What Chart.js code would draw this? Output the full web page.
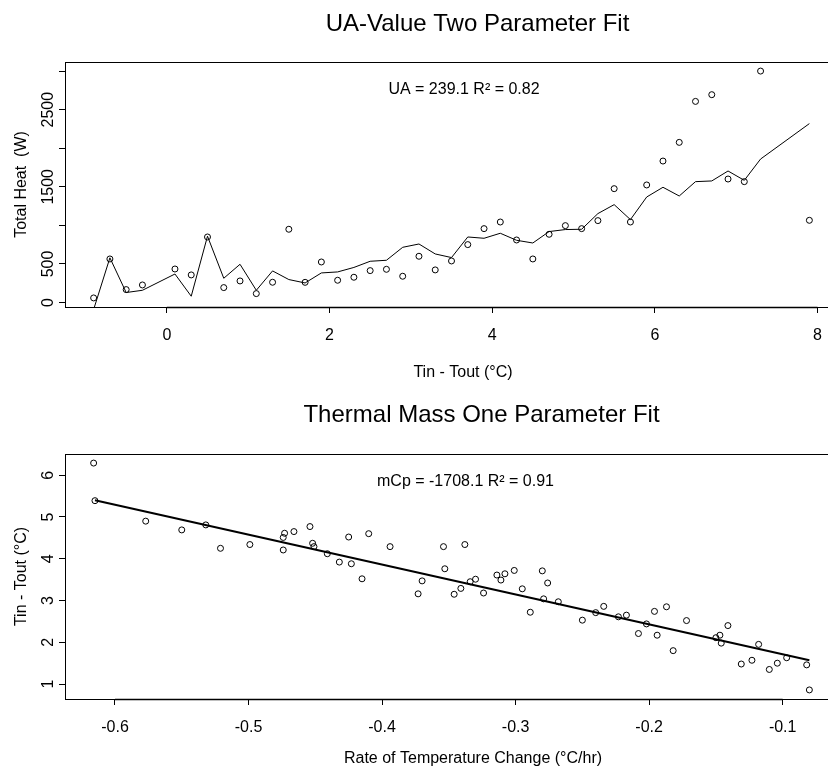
<!DOCTYPE html>
<html>
<head>
<meta charset="utf-8">
<script src="https://cdn.jsdelivr.net/npm/chart.js@4.4.1/dist/chart.umd.min.js"></script>
<style>
  html, body { margin: 0; padding: 0; background: #fff; overflow: hidden; }
  body { width: 828px; height: 769px; position: relative; }
  canvas { position: absolute; left: 0; }
  #uaChart { top: 0; }
  #massChart { top: 385px; }
</style>
</head>
<body>
<canvas id="uaChart" width="900" height="385"></canvas>
<canvas id="massChart" width="900" height="384"></canvas>
<script>
// UA fit: heat vs inside-outside temperature difference
const deltaT = [-0.9, -0.7, -0.5, -0.3, 0.1, 0.3, 0.5, 0.7, 0.9, 1.1, 1.3, 1.5, 1.7, 1.9, 2.1, 2.3, 2.5, 2.7, 2.9,
  3.1, 3.3, 3.5, 3.7, 3.9, 4.1, 4.3, 4.5, 4.7, 4.9, 5.1, 5.3, 5.5, 5.7, 5.9, 6.1, 6.3, 6.5, 6.7, 6.9, 7.1, 7.3, 7.9];
const totalHeat = [60, 565, 168, 228, 435, 358, 850, 194, 280, 116, 263, 950, 262, 526, 289, 328, 414, 431, 341,
  600, 423, 539, 751, 958, 1044, 811, 565, 885, 997, 958, 1062, 1476, 1044, 1524, 1834, 2076, 2607, 2694, 1601, 1567, 3000, 1066];
const heatFitted = [-90, 580, 130, 159, 370, 82, 860, 315, 496, 159, 410, 298, 254, 384, 397, 455, 535, 548, 716,
  759, 630, 583, 850, 833, 898, 807, 772, 920, 946, 950, 1153, 1269, 1075, 1368, 1494, 1381, 1567, 1576, 1705, 1584, 1860, 2319];
const uaXTicks = [0, 2, 4, 6, 8];
const uaXLabels = ["0", "2", "4", "6", "8"];
const uaYTicks = [0, 500, 1000, 1500, 2000, 2500, 3000];
const uaYLabels = ["0", "500", "", "1500", "", "2500", ""];

// thermal mass fit: temperature difference vs rate of change
const tempRate = [-0.616, -0.615, -0.577, -0.550, -0.532, -0.521, -0.499, -0.474, -0.473, -0.474, -0.466, -0.454,
  -0.452, -0.451, -0.441, -0.432, -0.425, -0.423, -0.415, -0.410, -0.394, -0.373, -0.370, -0.354, -0.353, -0.346,
  -0.341, -0.338, -0.334, -0.330, -0.324, -0.314, -0.311, -0.308, -0.301, -0.295, -0.289, -0.280, -0.279, -0.276,
  -0.268, -0.250, -0.240, -0.234, -0.223, -0.217, -0.208, -0.202, -0.196, -0.194, -0.187, -0.182, -0.172, -0.150,
  -0.147, -0.146, -0.141, -0.131, -0.123, -0.118, -0.110, -0.104, -0.097, -0.082, -0.080];
const tempDiff = [6.29, 5.39, 4.90, 4.69, 4.81, 4.25, 4.34, 4.51, 4.61, 4.21, 4.65, 4.77,
  4.37, 4.29, 4.12, 3.92, 4.52, 3.88, 3.52, 4.60, 4.29, 3.16, 3.47, 4.29, 3.76, 3.15,
  3.29, 4.34, 3.45, 3.51, 3.18, 3.61, 3.49, 3.64, 3.72, 3.28, 2.72, 3.71, 3.04, 3.42,
  2.97, 2.53, 2.71, 2.86, 2.61, 2.65, 2.21, 2.44, 2.74, 2.17, 2.85, 1.80, 2.52, 2.11,
  2.17, 1.98, 2.40, 1.48, 1.57, 1.95, 1.35, 1.50, 1.63, 1.46, 0.86];
const rateFitX = [-0.615, -0.080];
const rateFitY = [5.40, 1.57];
const massXTicks = [-0.6, -0.5, -0.4, -0.3, -0.2, -0.1];
const massXLabels = ["-0.6", "-0.5", "-0.4", "-0.3", "-0.2", "-0.1"];
const massYTicks = [1, 2, 3, 4, 5, 6];
const massYLabels = ["1", "2", "3", "4", "5", "6"];

const FONT = "'Liberation Sans', Arial, Helvetica, sans-serif";

// R-like default axis range: data range plus 4% each side
function padRange(vals) {
  let lo = Math.min(...vals), hi = Math.max(...vals), d = (hi - lo) * 0.04;
  return [lo - d, hi + d];
}

function toPoints(xs, ys) {
  return ys.map(function (v, i) {
    return { x: xs[i], y: v };
  });
}

function axis(range, ticks, dir) {
  return {
    type: "linear",
    min: range[0],
    max: range[1],
    afterBuildTicks: s => { s.ticks = ticks.map(v => ({ value: v })); },
    afterFit: s => { if (dir === "x") s.height = 6; else s.width = 6; },
    ticks: { display: false },
    border: { display: false },
    grid: { drawOnChartArea: false, drawTicks: true, tickLength: 6, color: "#000", lineWidth: 1 }
  };
}

// box, tick labels and texts in the style of base R graphics
const rStyle = {
  id: "rStyle",
  afterDraw(chart, args, o) {
    const ctx = chart.ctx, a = chart.chartArea;
    const xs = chart.scales.x, ys = chart.scales.y;
    ctx.save();
    ctx.strokeStyle = "#000";
    ctx.lineWidth = 1;
    const L = Math.round(a.left) + 0.5, T = Math.round(a.top) + 0.5;
    const R = Math.round(a.right) + 0.5, B = Math.round(a.bottom) + 0.5;
    ctx.strokeRect(L, T, R - L, B - T);

    // axis line from first to last tick
    ctx.lineWidth = 1.6;
    ctx.beginPath();
    ctx.moveTo(xs.getPixelForValue(xs.ticks[0].value), B);
    ctx.lineTo(xs.getPixelForValue(xs.ticks[xs.ticks.length - 1].value), B);
    ctx.stroke();

    ctx.fillStyle = "#000";
    ctx.font = "16px " + FONT;
    ctx.textAlign = "center";
    ctx.textBaseline = "alphabetic";
    xs.ticks.forEach((t, i) => {
      ctx.fillText(o.xLabels[i], xs.getPixelForValue(t.value), a.bottom + 33);
    });
    ys.ticks.forEach((t, i) => {
      if (!o.yLabels[i]) return;
      ctx.save();
      ctx.translate(a.left - 12.5, ys.getPixelForValue(t.value));
      ctx.rotate(-Math.PI / 2);
      ctx.fillText(o.yLabels[i], 0, 0);
      ctx.restore();
    });

    //axis titles
    ctx.fillText(o.xTitle, o.xTitleX, a.bottom + o.xTitleGap);
    ctx.save();
    ctx.translate(a.left - 39.5, (a.top + a.bottom) / 2);
    ctx.rotate(-Math.PI / 2);
    ctx.fillText(o.yTitle, 0, 0);
    ctx.restore();

    //fit result
    ctx.fillText(o.note, o.noteX, o.noteY);

    //main title
    ctx.font = "24px " + FONT;
    ctx.fillText(o.title, o.titleX, o.titleY);
    ctx.restore();
  }
};

function buildChart(id, cfg) {
  return new Chart(document.getElementById(id), {
    type: "scatter",
    data: {
      datasets: [
        {
          data: cfg.points,
          pointStyle: "circle",
          pointRadius: 3,
          pointBorderWidth: 1,
          borderColor: "#000",
          backgroundColor: "rgba(0,0,0,0)",
          order: 1
        },
        {
          data: cfg.line,
          showLine: true,
          borderColor: "#000",
          borderWidth: cfg.lineWidth,
          pointRadius: 0,
          order: 2
        }
      ]
    },
    options: {
      responsive: false,
      animation: false,
      events: [],
      layout: { padding: cfg.padding },
      plugins: {
        legend: { display: false },
        tooltip: { enabled: false },
        rStyle: cfg.text
      },
      scales: {
        x: axis(cfg.xRange, cfg.xTicks, "x"),
        y: axis(cfg.yRange, cfg.yTicks, "y")
      }
    },
    plugins: [rStyle]
  });
}

buildChart("uaChart", {
  points: toPoints(deltaT, totalHeat),
  line: toPoints(deltaT, heatFitted),
  lineWidth: 1,
  xRange: padRange(deltaT),
  yRange: padRange(totalHeat),
  xTicks: uaXTicks,
  yTicks: uaYTicks,
  padding: { left: 59, right: 62, top: 62, bottom: 72 },
  text: {
    xLabels: uaXLabels,
    yLabels: uaYLabels,
    xTitle: "Tin - Tout (°C)",
    xTitleX: 463,
    xTitleGap: 70,
    yTitle: "Total Heat  (W)",
    note: "UA = 239.1 R² = 0.82",
    noteX: 464,
    noteY: 94,
    title: "UA-Value Two Parameter Fit",
    titleX: 477.5,
    titleY: 31
  }
});

buildChart("massChart", {
  points: toPoints(tempRate, tempDiff),
  line: toPoints(rateFitX, rateFitY),
  lineWidth: 2,
  xRange: padRange(tempRate),
  yRange: padRange(tempDiff),
  xTicks: massXTicks,
  yTicks: massYTicks,
  padding: { left: 59, right: 62, top: 69, bottom: 64 },
  text: {
    xLabels: massXLabels,
    yLabels: massYLabels,
    xTitle: "Rate of Temperature Change (°C/hr)",
    xTitleX: 473,
    xTitleGap: 64,
    yTitle: "Tin - Tout (°C)",
    note: "mCp = -1708.1 R² = 0.91",
    noteX: 465.5,
    noteY: 101,
    title: "Thermal Mass One Parameter Fit",
    titleX: 481.5,
    titleY: 37
  }
});
</script>
</body>
</html>
